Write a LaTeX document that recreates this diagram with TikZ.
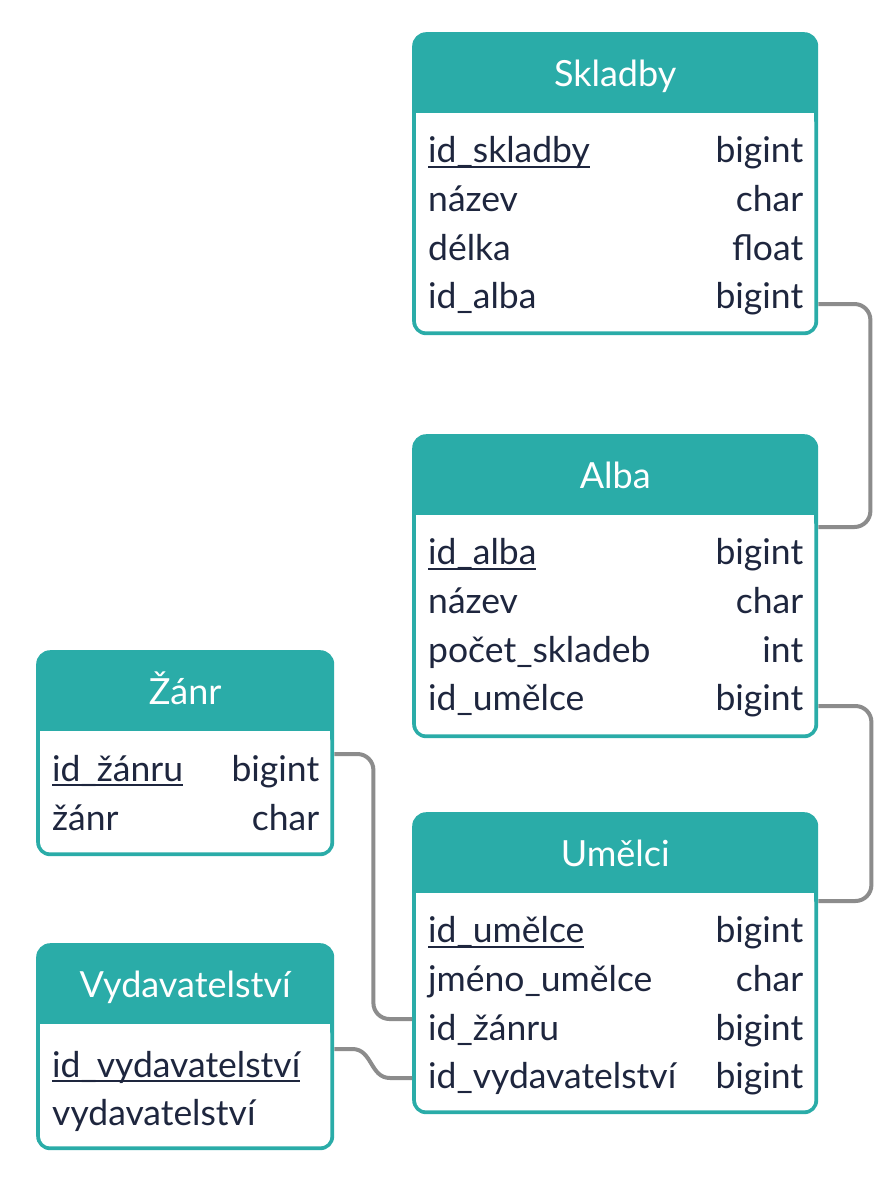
\documentclass[tikz,border=0pt]{standalone}
\usepackage{fontspec}
\setmainfont{Lato}
\usetikzlibrary{positioning, calc}
\definecolor{tealhead}{RGB}{42,172,168}
\definecolor{linkgray}{RGB}{140,140,140}
\definecolor{fieldtext}{RGB}{30,38,62}
\newcommand{\keyfield}[1]{\setbox0\hbox{#1}\rlap{\rule[-5pt]{\wd0}{1.8pt}}\box0}

\begin{document}
\begin{tikzpicture}[
        x=1pt, y=-1pt,
        table/.style={fill=tealhead, rounded corners=14pt, inner sep=0pt, anchor=north west},
        title/.style={text=white, font=\fontsize{36}{42}\selectfont, anchor=base, inner sep=0pt},
        field/.style={text=fieldtext, font=\fontsize{35.5}{40}\selectfont, anchor=base west, inner sep=0pt, text height=16pt, text depth=6pt},
        ftype/.style={field, anchor=base east},
        link/.style={draw=linkgray, line width=4pt},
    ]
        \fill[white] (0,0) rectangle (896,1192);
        \useasboundingbox (0,0) rectangle (896,1192);

        % Draw the tables: teal frame, title and white body
        \foreach \tab/\tx/\ty/\w/\h/\name in {skladby/412/32/406/303/Skladby,
                alba/412/434/406/304/Alba, umelci/412/812/406/302/Umělci,
                zanr/36/650/298/206/Žánr, vyd/36/943/298/207/Vydavatelství} {
            \node[table, minimum width=\w pt, minimum height=\h pt] (\tab) at (\tx,\ty) {};
            \node[title] (\tab-title) at ($(\tab.north)+(0,54)$) {\name};
            \fill[white, rounded corners=10pt] ($(\tab.north west)+(4,81)$) rectangle ($(\tab.south east)+(-4,-4)$);
            \fill[white] ($(\tab.north west)+(4,81)$) rectangle ($(\tab.north east)+(-4,100)$);
        }

        % Fields of each table
        \foreach \i/\fname/\ftype in {1/{\keyfield{id\_skladby}}/bigint, 2/název/char, 3/délka/float, 4/id\_alba/bigint} {
            \node[field] (skladby-\i) at ($(skladby.north west)+(16,{82+48.7*\i})$) {\fname};
            \node[ftype] (skladby-\i-type) at ($(skladby.north east)+(-15,{82+48.7*\i})$) {\ftype};
        }
        \foreach \i/\fname/\ftype in {1/{\keyfield{id\_alba}}/bigint, 2/název/char, 3/počet\_skladeb/int, 4/id\_umělce/bigint} {
            \node[field] (alba-\i) at ($(alba.north west)+(16,{82+48.7*\i})$) {\fname};
            \node[ftype] (alba-\i-type) at ($(alba.north east)+(-15,{82+48.7*\i})$) {\ftype};
        }
        \foreach \i/\fname/\ftype in {1/{\keyfield{id\_umělce}}/bigint, 2/jméno\_umělce/char, 3/id\_žánru/bigint, 4/id\_vydavatelství/bigint} {
            \node[field] (umelci-\i) at ($(umelci.north west)+(16,{82+48.7*\i})$) {\fname};
            \node[ftype] (umelci-\i-type) at ($(umelci.north east)+(-15,{82+48.7*\i})$) {\ftype};
        }
        \foreach \i/\fname/\ftype in {1/{\keyfield{id\_žánru}}/bigint, 2/žánr/char} {
            \node[field] (zanr-\i) at ($(zanr.north west)+(16,{82+49*\i})$) {\fname};
            \node[ftype] (zanr-\i-type) at ($(zanr.north east)+(-15,{82+49*\i})$) {\ftype};
        }
        \node[field] (vyd-1) at ($(vyd.north west)+(16,134)$) {\keyfield{id\_vydavatelství}};
        \node[field] (vyd-2) at ($(vyd.north west)+(16,182)$) {vydavatelství};

        % Relations between the tables
        \draw[link, rounded corners=16pt] ($(skladby.north east)+(0,272)$) -- ++(52,0) |- ($(alba.north east)+(0,93)$);
        \draw[link, rounded corners=16pt] ($(alba.north east)+(0,272)$) -- ++(53,0) |- ($(umelci.north east)+(0,89)$);
        \draw[link, rounded corners=16pt] ($(zanr.north east)+(0,104)$) -- ++(39,0) |- ($(umelci.north west)+(0,207)$);
        \draw[link] ($(vyd.north east)+(0,106)$) -- ++(18,0) .. controls +(20,0) and +(-20,0) .. ($(umelci.north west)+(-22,266)$) -- ($(umelci.north west)+(0,266)$);
\end{tikzpicture}
\end{document}
